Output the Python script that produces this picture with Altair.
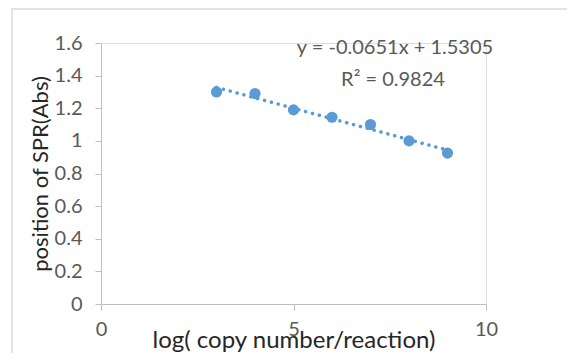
import altair as alt
import pandas as pd

# data
log_copy = [3, 4, 5, 6, 7, 8, 9]
spr_abs = [1.30, 1.29, 1.19, 1.145, 1.10, 1.00, 0.925]
x_ticks = [0, 5, 10]
y_ticks = [0, 0.2, 0.4, 0.6, 0.8, 1.0, 1.2, 1.4, 1.6]
equation_text = "y = -0.0651x + 1.5305"
r2_text = "R² = 0.9824"

df = pd.DataFrame({"x": log_copy, "y": spr_abs})

FONT = "Lato"
BLUE = "#5b9bd5"
GRAY = "#595959"

x_enc = alt.X("x:Q", scale=alt.Scale(domain=[0, 10], nice=False),
              axis=alt.Axis(values=x_ticks, title="log( copy number/reaction)",
                            grid=False, domainColor="#bfbfbf", tickColor="#bfbfbf",
                            tickSize=6, labelPadding=9, labelFontSize=20,
                            labelColor=GRAY, labelFont=FONT, titleFont=FONT,
                            titleFontSize=24, titleFontWeight="normal",
                            titleColor="#262626", titleBaseline="top", titleY=24,
                            labelFlush=False))
y_enc = alt.Y("y:Q", scale=alt.Scale(domain=[0, 1.6], nice=False),
              axis=alt.Axis(values=y_ticks, title="position of SPR(Abs)",
                            grid=False, domainColor="#bfbfbf", tickColor="#bfbfbf",
                            tickSize=6, labelPadding=13, labelFontSize=20,
                            labelColor=GRAY, labelFont=FONT, titleFont=FONT,
                            titleFontSize=22, titleFontWeight="normal",
                            titleColor="#262626", titlePadding=2,
                            format="~g", labelFlush=False))

base = alt.Chart(df)

border = alt.Chart(pd.DataFrame({"a": [0]})).mark_rect(
    fill=None, stroke="#d9d9d9", strokeWidth=1.5
).encode(x=alt.value(-89), x2=alt.value(480), y=alt.value(-34), y2=alt.value(330))

trend = base.transform_regression("x", "y").mark_line(
    color=BLUE, strokeWidth=3.5, strokeDash=[0.1, 7], strokeCap="round"
).encode(x=x_enc, y=y_enc)

points = base.mark_point(filled=True, size=125, color=BLUE, opacity=1).encode(x=x_enc, y=y_enc)

eq = alt.Chart(pd.DataFrame({"t": [equation_text]})).mark_text(
    font=FONT, fontSize=20, color=GRAY
).encode(text="t:N", x=alt.value(294), y=alt.value(5))

r2 = alt.Chart(pd.DataFrame({"t": [r2_text]})).mark_text(
    font=FONT, fontSize=20, color=GRAY
).encode(text="t:N", x=alt.value(292), y=alt.value(37))

chart = alt.layer(border, trend, points, eq, r2).properties(
    width=385, height=261,
    autosize=alt.AutoSizeParams(type="none"),
    padding={"left": 93, "top": 35, "right": 81, "bottom": 49},
).configure_view(stroke=None).configure(background="white")

chart.save("out.html", embed_options={"renderer": "svg", "actions": False})
